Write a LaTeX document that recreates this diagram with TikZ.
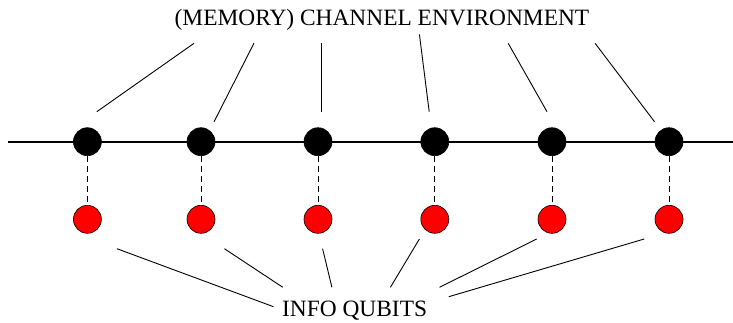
\documentclass[tikz,border=0pt]{standalone}
\usepackage{fontspec}
\setmainfont{Liberation Serif}
\begin{document}
\begin{tikzpicture}[x=1pt,y=-1pt,
  envqubit/.style={circle,draw=black,fill=black,minimum size=28pt,inner sep=0pt,line width=0.6pt},
  infoqubit/.style={circle,draw=black,fill=red,minimum size=28pt,inner sep=0pt,line width=0.6pt},
  label/.style={font=\fontsize{23.4pt}{26pt}\selectfont,anchor=base,inner sep=0pt},
  link/.style={line width=0.9pt},
  couple/.style={line width=0.9pt,dash pattern=on 6pt off 4pt}]
\useasboundingbox (0,0) rectangle (733,322);

% channel line
\coordinate (left) at (8,141.7);
\coordinate (right) at (733,141.7);
\draw[line width=2pt] (left) -- (right);

% environment and info qubits
\foreach \i/\x in {1/87.4,2/201,3/318,4/434.8,5/552,6/669}{
  \node[envqubit] (b\i) at (\x,141.7) {};
  \node[infoqubit] (r\i) at (\x,219.3) {};
  \draw[couple] (b\i.south) -- (r\i.north);
}

% labels
\node[label] (env) at (382,25) {(MEMORY) CHANNEL ENVIRONMENT};
\node[label] (info) at (354.6,316.5) {INFO QUBITS};

% pointers from the environment label
\foreach \i/\ax/\ay/\bx/\by in {1/194/43.3/96.8/111.7,2/253.9/43.3/214.1/121.7,3/321.6/43.3/321.6/111.7,4/419.4/34.3/429.2/111.7,5/508.2/43.3/547/111.7,6/595.1/43.3/654.5/121.7}{
  \coordinate (ea\i) at (\ax,\ay);
  \coordinate (eb\i) at (\bx,\by);
  \draw[link] (ea\i) -- (eb\i);
}

% pointers to the info qubits label
\foreach \i/\ax/\ay/\bx/\by in {1/116.9/248.7/273.5/306.7,2/224.4/248.7/282.8/287.3,3/322.6/248.7/331.9/287.3,4/419.4/239/390.4/287.3,5/536.7/239/439.5/287.3,6/644.2/239/448.8/296.7}{
  \coordinate (ia\i) at (\ax,\ay);
  \coordinate (ib\i) at (\bx,\by);
  \draw[link] (ia\i) -- (ib\i);
}
\end{tikzpicture}
\end{document}
